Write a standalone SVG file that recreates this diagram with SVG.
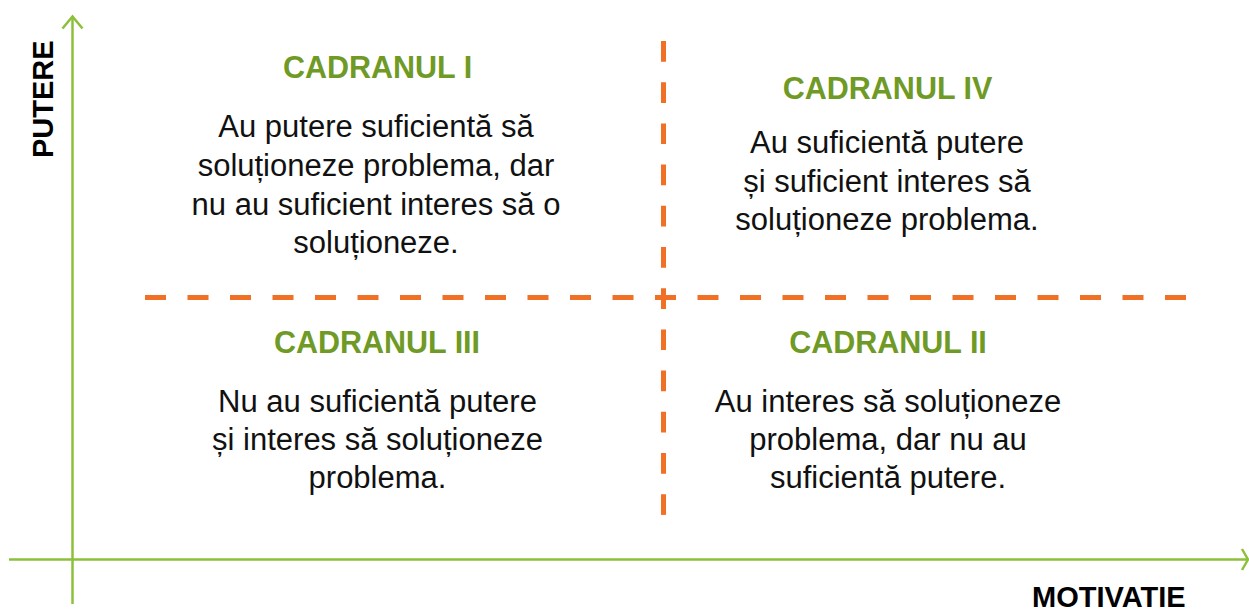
<svg xmlns="http://www.w3.org/2000/svg" width="1249" height="612" viewBox="0 0 1249 612">
<style>
.axis{stroke:#8cc03c;stroke-width:2.5;fill:none}
.dash{stroke:#f07026;stroke-width:5;fill:none}
.title{font-family:"Liberation Sans",Arial,sans-serif;font-weight:bold;font-size:30.5px;fill:#6f9a25;text-anchor:middle}
.body{font-family:"Liberation Sans",Arial,sans-serif;font-size:31px;fill:#111;text-anchor:middle}
.lab{font-family:"Liberation Sans",Arial,sans-serif;font-weight:bold;font-size:29px;fill:#000}
</style>
<rect width="1249" height="612" fill="#fff"/>
<g id="connectors">
<path class="axis" d="M72.5 17 V604"/>
<path class="axis" d="M62.5 28.5 L72.5 16.5 L82.5 28.5"/>
<path class="axis" d="M9 559.5 H1247"/>
<path class="axis" d="M1242 549 L1248 559.5 L1242 570"/>
<path class="dash" d="M145 297.5 H1186" stroke-dasharray="21 21.5"/>
<path class="dash" d="M663.5 41 V515" stroke-dasharray="20.7 20.5"/>
</g>
<g id="axis-y-label"><text class="lab" transform="translate(53 158) rotate(-90)">PUTERE</text></g>
<g id="axis-x-label"><text class="lab" x="1032" y="607">MOTIVATIE</text></g>
<g id="q1">
<text class="title" x="377.5" y="78">CADRANUL I</text>
<text class="body" x="376" y="137">Au putere suficientă să</text>
<text class="body" x="376" y="176">soluționeze problema, dar</text>
<text class="body" x="376" y="215">nu au suficient interes să o</text>
<text class="body" x="376" y="253">soluționeze.</text>
</g>
<g id="q4">
<text class="title" x="887.5" y="99">CADRANUL IV</text>
<text class="body" x="887" y="153">Au suficientă putere</text>
<text class="body" x="887" y="191.5">și suficient interes să</text>
<text class="body" x="887" y="229.5">soluționeze problema.</text>
</g>
<g id="q3">
<text class="title" x="377" y="353">CADRANUL III</text>
<text class="body" x="377.5" y="411.5">Nu au suficientă putere</text>
<text class="body" x="377.5" y="450">și interes să soluționeze</text>
<text class="body" x="377.5" y="488">problema.</text>
</g>
<g id="q2">
<text class="title" x="888" y="353">CADRANUL II</text>
<text class="body" x="888" y="411.5">Au interes să soluționeze</text>
<text class="body" x="888" y="450">problema, dar nu au</text>
<text class="body" x="888" y="488">suficientă putere.</text>
</g>
</svg>
